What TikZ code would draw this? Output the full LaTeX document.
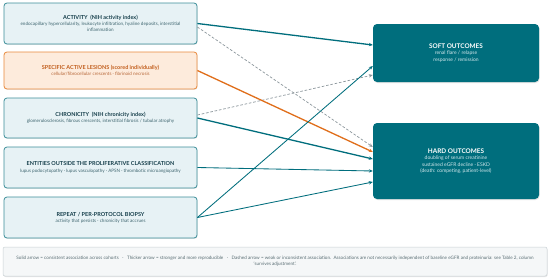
\documentclass[tikz,border=0pt]{standalone}
\usepackage{fontspec}
\setmainfont{Lato}
\usetikzlibrary{arrows.meta,shadows,positioning}
\definecolor{teal}{HTML}{006E7D}
\definecolor{tealborder}{HTML}{3C8E99}
\definecolor{lightfill}{HTML}{E7F2F5}
\definecolor{orgfill}{HTML}{FDEBDC}
\definecolor{orgborder}{HTML}{E9893C}
\definecolor{orgline}{HTML}{E06E1A}
\definecolor{orgtext}{HTML}{C25F1E}
\definecolor{orgsub}{HTML}{B8693A}
\definecolor{titletext}{HTML}{163F4B}
\definecolor{subtext}{HTML}{3F6670}
\definecolor{dashgray}{HTML}{8C979C}
\definecolor{footfill}{HTML}{F5F7F8}
\definecolor{footborder}{HTML}{C9D1D5}
\definecolor{foottext}{HTML}{5A6E74}
\definecolor{outsub}{HTML}{D3E8EC}
\newcommand{\lcontent}[3]{\parbox{190pt}{\centering
  {\fontsize{5.5}{6.8}\selectfont\bfseries #1\par}\vspace{0.6pt}
  {\fontsize{4.6}{5.6}\selectfont\color{#3}#2\par}}}
\newcommand{\ocontent}[2]{\parbox{160pt}{\centering
  {\fontsize{6.4}{7.8}\selectfont\bfseries #1\par}
  {\fontsize{5}{6.3}\selectfont\color{outsub}#2\par}}}
\tikzset{
  leftbox/.style={draw=tealborder, line width=0.8pt, fill=lightfill, rounded corners=3pt,
    minimum width=193pt, inner sep=1pt, text=titletext,
    drop shadow={opacity=0.18, shadow xshift=0.6pt, shadow yshift=-0.9pt}},
  orgbox/.style={leftbox, draw=orgborder, fill=orgfill, text=orgtext},
  outbox/.style={fill=teal, rounded corners=4pt, minimum width=166pt,
    text=white, inner sep=1pt,
    drop shadow={opacity=0.22, shadow xshift=0.6pt, shadow yshift=-1pt}},
  footbox/.style={draw=footborder, line width=0.5pt, fill=footfill, rounded corners=2pt,
    minimum width=544pt, minimum height=29pt, inner sep=1pt, text=foottext,
    drop shadow={opacity=0.18, shadow xshift=0.6pt, shadow yshift=-1pt}},
  tip/.style={-{Stealth[length=4pt,width=3.4pt]}},
  strong/.style={tip, draw=teal, line width=1.3pt},
  normal/.style={tip, draw=teal, line width=0.85pt},
  orgarrow/.style={tip, draw=orgline, line width=1.3pt},
  weak/.style={tip, draw=dashgray, line width=0.7pt, dash pattern=on 2.6pt off 1.8pt},
}
\begin{document}
\begin{tikzpicture}[x=1pt,y=-1pt]
\useasboundingbox (0,0) rectangle (550,279);
\fill[white] (0,0) rectangle (550,279);

\node[leftbox, minimum height=41pt] (act) at (100.5,23.5)
  {\lcontent{ACTIVITY\ \ (NIH activity index)}{endocapillary hypercellularity, leukocyte infiltration, hyaline deposits, interstitial\\inflammation}{subtext}};
\node[orgbox, minimum height=37pt] (spec) at (100.5,70.5)
  {\lcontent{SPECIFIC ACTIVE LESIONS (scored individually)}{cellular/fibrocellular crescents · fibrinoid necrosis}{orgsub}};
\node[leftbox, minimum height=40pt] (chron) at (100.5,118)
  {\lcontent{CHRONICITY\ \ (NIH chronicity index)}{glomerulosclerosis, fibrous crescents, interstitial fibrosis / tubular atrophy}{subtext}};
\node[leftbox, minimum height=41pt] (ent) at (100.5,167.5)
  {\lcontent{ENTITIES OUTSIDE THE PROLIFERATIVE CLASSIFICATION}{lupus podocytopathy · lupus vasculopathy · APSN · thrombotic microangiopathy}{subtext}};
\node[leftbox, minimum height=41pt] (rep) at (100.5,217.5)
  {\lcontent{REPEAT / PER-PROTOCOL BIOPSY}{activity that persists · chronicity that accrues}{subtext}};

\node[outbox, minimum height=58pt] (soft) at (456,53)
  {\ocontent{SOFT OUTCOMES}{renal flare / relapse\\response / remission}};
\node[outbox, minimum height=76pt] (hard) at (456,161)
  {\ocontent{HARD OUTCOMES}{doubling of serum creatinine\\sustained eGFR decline · ESKD\\(death: competing, patient-level)}};

\node[footbox] (foot) at (275,261.5)
  {\parbox{540pt}{\centering\fontsize{4.6}{5.8}\selectfont Solid arrow = consistent association across cohorts\ \ \ ·\ \ \ Thicker arrow = stronger and more reproducible\ \ \ ·\ \ \ Dashed arrow = weak or inconsistent association.\ \ Associations are not necessarily independent of baseline eGFR and proteinuria: see Table 2, column\\`survives adjustment'.}};

% connectors
\draw[weak] ([yshift=-3.5pt]act.east) -- ([yshift=14pt]hard.west);
\draw[weak] ([yshift=3pt]chron.east) -- ([yshift=-22pt]soft.west);
\draw[strong] (act.east) -- ([yshift=8pt]soft.west);
\draw[orgarrow] (spec.east) -- ([yshift=9pt]hard.west);
\draw[strong] (chron.east) -- ([yshift=2pt]hard.west);
\draw[normal] (ent.east) -- ([yshift=-10pt]hard.west);
\draw[normal] (rep.east) -- ([yshift=-13pt]soft.west);
\draw[normal] (rep.east) -- ([yshift=-21pt]hard.west);
\end{tikzpicture}
\end{document}
